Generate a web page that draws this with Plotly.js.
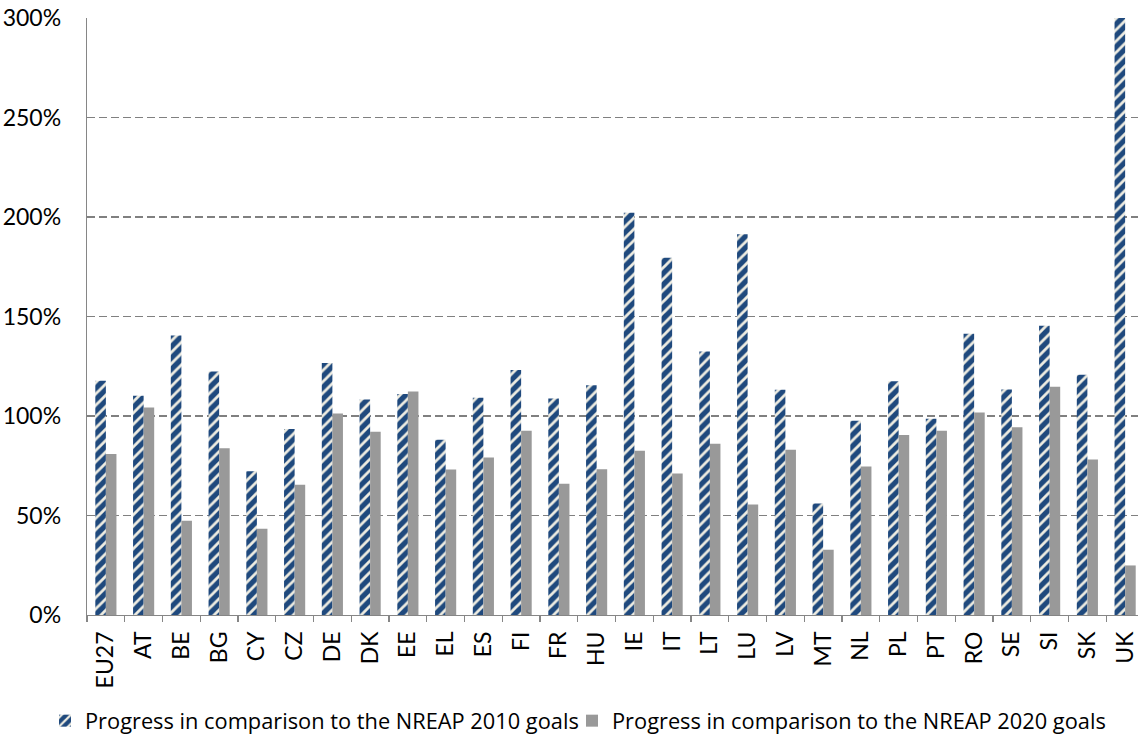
<!DOCTYPE html>
<html><head><meta charset="utf-8">
<script src="https://cdn.plot.ly/plotly-3.0.1.min.js"></script>
<style>html,body{margin:0;padding:0;overflow:hidden;background:#fff}#chart{width:1160px;height:737px}</style>
</head><body><div id="chart"></div><script>
const countries = ["EU27","AT","BE","BG","CY","CZ","DE","DK","EE","EL","ES","FI","FR","HU","IE","IT","LT","LU","LV","MT","NL","PL","PT","RO","SE","SI","SK","UK"];
const progress2010 = [117.7,110.2,140.4,122.4,72.2,93.5,126.6,108.3,111.0,88.1,109.2,123.1,108.8,115.5,202.1,179.5,132.4,191.3,113.2,56.0,97.6,117.4,98.6,141.3,113.3,145.3,120.7,300];
const progress2020 = [80.9,104.3,47.3,83.8,43.3,65.4,101.2,92.1,112.3,73.1,79.1,92.6,66.0,73.2,82.6,71.1,86.0,55.5,83.1,32.8,74.6,90.5,92.6,101.8,94.3,114.7,78.1,24.9];
const yTickVals = [0,50,100,150,200,250,300];
const yTickText = ["0%","50%","100%","150%","200%","250%","300%"];
const seriesNames = ["Progress in comparison to the NREAP 2010 goals","Progress in comparison to the NREAP 2020 goals"];

const FONT = "Lato, 'Open Sans', sans-serif";
const LFONT = "'Open Sans', Lato, sans-serif";
const traces = [
  {type:"bar", x:countries, y:progress2010, name:seriesNames[0], legend:"legend",
   marker:{color:"#1F497D", line:{width:0},
           pattern:{shape:"/", bgcolor:"#1F497D", fgcolor:"#EEECE1", size:8, solidity:0.35, fillmode:"replace"}},
   hoverinfo:"x+y"},
  {type:"bar", x:countries, y:progress2020, name:seriesNames[1], legend:"legend2",
   marker:{color:"#999999", line:{width:0}}, hoverinfo:"x+y"}
];
const legendBase = {orientation:"h", xref:"container", yref:"container", xanchor:"left", y:1-721/737, yanchor:"middle",
  font:{family:LFONT, size:21.8, color:"#000"}, itemwidth:30, bgcolor:"rgba(0,0,0,0)"};
const layout = {
  width:1160, height:737,
  margin:{l:87, r:16, t:18, b:122},
  paper_bgcolor:"#fff", plot_bgcolor:"#fff",
  barmode:"group", bargap:0.44, bargroupgap:0,
  font:{family:FONT, color:"#000"},
  xaxis:{type:"category", showline:true, linecolor:"#868686", linewidth:1.3,
         ticks:"outside", ticklen:6, tickcolor:"#868686", tickwidth:1.3, tickson:"boundaries",
         tickangle:-90, tickfont:{family:FONT, size:23, color:"#000"}, showgrid:false, ticklabelstandoff:6,
         automargin:false},
  yaxis:{range:[0,300], tickvals:yTickVals, ticktext:yTickText, showgrid:true,
         gridcolor:"#808080", gridwidth:1.3, griddash:"8px,4px", showline:true, linecolor:"#868686", linewidth:1.3,
         zeroline:false, ticks:"", tickfont:{family:FONT, size:23, color:"#000"}, ticklabelstandoff:20,
         automargin:false},
  showlegend:true,
  legend:Object.assign({}, legendBase, {x:45/1160}),
  legend2:Object.assign({}, legendBase, {x:572/1160})
};
Plotly.newPlot("chart", traces, layout, {displayModeBar:false, staticPlot:true});
</script></body></html>
